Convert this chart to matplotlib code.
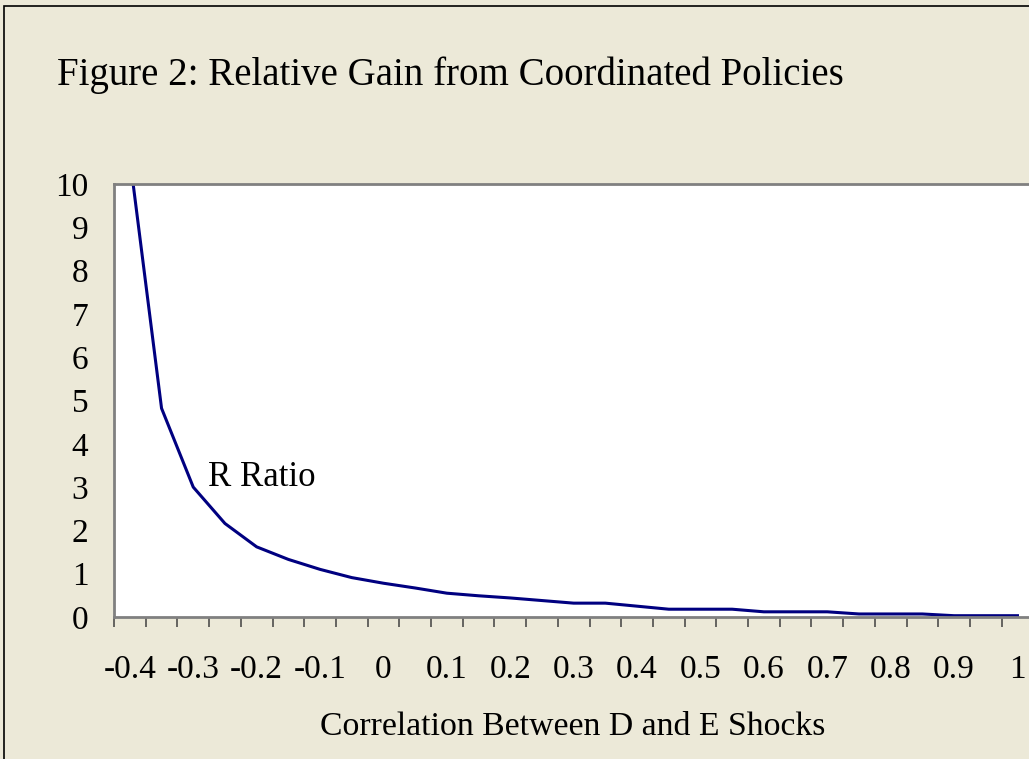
import matplotlib
matplotlib.use('Agg')
import matplotlib.pyplot as plt
from matplotlib.patches import Rectangle

# correlation categories (Excel line chart, category axis)
correlations = [-0.4, -0.35, -0.3, -0.25, -0.2, -0.15, -0.1, -0.05, 0.0, 0.05,
                0.1, 0.15, 0.2, 0.25, 0.3, 0.35, 0.4, 0.45, 0.5, 0.55,
                0.6, 0.65, 0.7, 0.75, 0.8, 0.85, 0.9, 0.95, 1.0]
r_ratio = [10.6, 4.82, 3.0, 2.16, 1.62, 1.33, 1.10, 0.91, 0.78, 0.67,
           0.55, 0.49, 0.44, 0.38, 0.32, 0.32, 0.25, 0.18, 0.18, 0.18,
           0.12, 0.12, 0.12, 0.07, 0.07, 0.07, 0.03, 0.03, 0.03]
tick_labels = ['-0.4', '-0.3', '-0.2', '-0.1', '0', '0.1', '0.2', '0.3',
               '0.4', '0.5', '0.6', '0.7', '0.8', '0.9', '1']

plt.rcParams['font.family'] = ['Liberation Serif', 'DejaVu Serif']

W, H = 1029, 759
bg = '#ECE9D8'
fig = plt.figure(figsize=(W / 100, H / 100), dpi=100, facecolor=bg)

# outer chart border (only left/top visible in the crop)
fig.patches.append(Rectangle((4 / W, -0.1), 1.2, 1 - 6 / H + 0.1,
                             transform=fig.transFigure, fill=False,
                             edgecolor='black', linewidth=1.2))

left, right, top, bottom = 114, 1033.3, 184, 617
ax = fig.add_axes([left / W, 1 - bottom / H, (right - left) / W, (bottom - top) / H])
ax.set_facecolor('white')

idx = list(range(len(correlations)))
ax.plot(idx, r_ratio, color='#000080', linewidth=2.2, solid_joinstyle='round')

ax.set_xlim(-0.5, len(correlations) - 0.5)
ax.set_ylim(0, 10)

# ticks at category boundaries, labels on every second category
ax.set_xticks([i - 0.5 for i in range(len(correlations))])
ax.set_xticklabels([])
ax.set_xticks(idx[::2], minor=True)
ax.set_xticklabels(tick_labels, minor=True, fontsize=24)
ax.tick_params(axis='x', which='major', direction='out', length=7.2, width=1.1,
               color='#404040')
ax.tick_params(axis='x', which='minor', length=0, pad=27)

ax.set_yticks(range(0, 11))
ax.set_yticklabels([str(v) for v in range(0, 11)], fontsize=24)
ax.tick_params(axis='y', length=0, pad=18.5)

for side in ['left', 'top', 'bottom']:
    ax.spines[side].set_color('#808080')
    ax.spines[side].set_linewidth(2)
ax.spines['right'].set_visible(False)

ax.text(2.47, 3.22, 'R Ratio', fontsize=25, ha='left', va='center')

fig.text(57 / W, 1 - 85 / H, 'Figure 2: Relative Gain from Coordinated Policies',
         fontsize=28, ha='left', va='baseline')
fig.text(573 / W, 1 - 727 / H, 'Correlation Between D and E Shocks',
         fontsize=24.3, ha='center', va='center')

fig.savefig('out.png', dpi=100, facecolor=bg)
